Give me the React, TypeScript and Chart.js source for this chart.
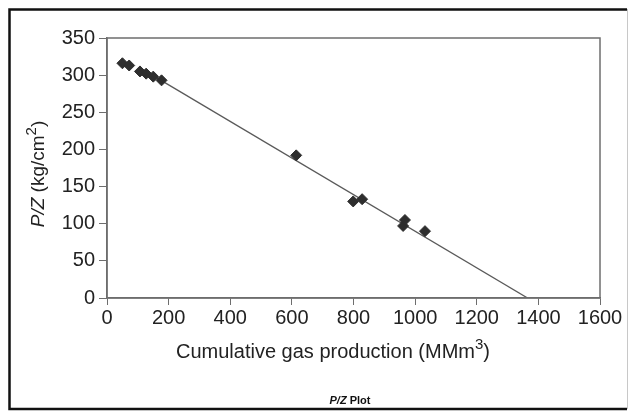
import React, { useEffect, useRef } from "react";
import { Chart, registerables } from "chart.js";

Chart.register(...registerables);

const cumulativeProduction = [50, 72, 107, 127, 150, 177, 614, 799, 828, 961, 967, 1032];
const pzValues = [316, 313, 305, 302, 298, 293, 192, 130, 133, 97, 105, 90];
const trendX = [151, 1365];
const trendY = [299, 0];
const xTicks = [0, 200, 400, 600, 800, 1000, 1200, 1400, 1600];
const yTicks = [0, 50, 100, 150, 200, 250, 300, 350];

const FONT = "'Liberation Sans', Arial, Helvetica, sans-serif";

const decorPlugin = {
  id: "decor",
  beforeDraw(chart: any) {
    const ctx = chart.ctx;
    const { width, height } = chart;
    ctx.save();
    ctx.fillStyle = "#ffffff";
    ctx.fillRect(0, 0, width, height);
    ctx.restore();
  },
  afterDraw(chart: any) {
    const ctx = chart.ctx;
    const ca = chart.chartArea;
    ctx.save();
    // plot frame
    ctx.strokeStyle = "#6e6e6e";
    ctx.lineWidth = 1.5;
    ctx.strokeRect(ca.left, ca.top, ca.right - ca.left, ca.bottom - ca.top);

    // outer frame
    ctx.strokeStyle = "#111";
    ctx.lineWidth = 2.5;
    ctx.beginPath();
    ctx.moveTo(627, 9.5);
    ctx.lineTo(9.5, 9.5);
    ctx.lineTo(9.5, 409);
    ctx.lineTo(627, 409);
    ctx.stroke();
    ctx.strokeStyle = "#c8c8c8";
    ctx.lineWidth = 1;
    ctx.beginPath();
    ctx.moveTo(627.5, 9);
    ctx.lineTo(627.5, 409);
    ctx.stroke();

    ctx.fillStyle = "#222";
    ctx.textBaseline = "alphabetic";

    // x title
    const main = "Cumulative gas production (MMm";
    ctx.font = `20px ${FONT}`;
    const w1 = ctx.measureText(main).width;
    ctx.font = `15px ${FONT}`;
    const w2 = ctx.measureText("3").width;
    ctx.font = `20px ${FONT}`;
    const w3 = ctx.measureText(")").width;
    const total = w1 + w2 + w3;
    const x0 = 333 - total / 2;
    const yb = 358;
    ctx.textAlign = "left";
    ctx.fillText(main, x0, yb);
    ctx.font = `15px ${FONT}`;
    ctx.fillText("3", x0 + w1, yb - 9);
    ctx.font = `20px ${FONT}`;
    ctx.fillText(")", x0 + w1 + w2, yb);

    // y title rotated
    ctx.save();
    ctx.translate(44, 174);
    ctx.rotate(-Math.PI / 2);
    const fs = 19;
    const pz = "P/Z";
    ctx.font = `italic ${fs}px ${FONT}`;
    const a = ctx.measureText(pz).width;
    ctx.font = `${fs}px ${FONT}`;
    const b = ctx.measureText(" (kg/cm").width;
    ctx.font = `15px ${FONT}`;
    const c = ctx.measureText("2").width;
    ctx.font = `${fs}px ${FONT}`;
    const d = ctx.measureText(")").width;
    const sx = -(a + b + c + d) / 2;
    ctx.font = `italic ${fs}px ${FONT}`;
    ctx.fillText(pz, sx, 0);
    ctx.font = `${fs}px ${FONT}`;
    ctx.fillText(" (kg/cm", sx + a, 0);
    ctx.font = `15px ${FONT}`;
    ctx.fillText("2", sx + a + b, -8);
    ctx.font = `${fs}px ${FONT}`;
    ctx.fillText(")", sx + a + b + c, 0);
    ctx.restore();

    // caption
    ctx.fillStyle = "#111";
    ctx.font = `bold italic 11px ${FONT}`;
    const p1 = ctx.measureText("P/Z").width;
    ctx.font = `bold 11px ${FONT}`;
    const p2 = ctx.measureText(" Plot").width;
    const cx = 350 - (p1 + p2) / 2;
    ctx.font = `bold italic 11px ${FONT}`;
    ctx.fillText("P/Z", cx, 404);
    ctx.font = `bold 11px ${FONT}`;
    ctx.fillText(" Plot", cx + p1, 404);
    ctx.restore();
  },
};

export default function App() {
  const ref = useRef<HTMLCanvasElement>(null);
  useEffect(() => {
    document.body.style.margin = "0";
    const points = cumulativeProduction.map((x, i) => ({ x, y: pzValues[i] }));
    const trend = trendX.map((x, i) => ({ x, y: trendY[i] }));
    const chart = new Chart(ref.current as HTMLCanvasElement, {
      type: "scatter",
      data: {
        datasets: [
          {
            type: "line",
            data: trend,
            borderColor: "#5a5a5a",
            borderWidth: 1.3,
            pointRadius: 0,
            showLine: true,
            order: 2,
          } as any,
          {
            data: points,
            pointStyle: "rectRot",
            pointRadius: 5.5,
            backgroundColor: "#2e2e2e",
            borderColor: "#2e2e2e",
            borderWidth: 1,
            order: 1,
          },
        ],
      },
      options: {
        animation: false,
        responsive: false,
        events: [],
        layout: { padding: { left: 0, right: 31, top: 38, bottom: 0 } },
        plugins: { legend: { display: false }, tooltip: { enabled: false } },
        scales: {
          x: {
            type: "linear",
            min: 0,
            max: 1600,
            afterBuildTicks: (s: any) => {
              s.ticks = xTicks.map((v) => ({ value: v }));
            },
            afterFit: (s: any) => {
              s.height = 118;
            },
            border: { display: true, color: "#6e6e6e", width: 1.5 },
            grid: { drawOnChartArea: false, drawTicks: true, tickLength: 7, color: "#6e6e6e" },
            ticks: {
              color: "#222",
              font: { family: FONT, size: 20 },
              padding: 1,
              maxRotation: 0,
              autoSkip: false,
              callback: (v: any) => String(v),
            },
          },
          y: {
            type: "linear",
            min: 0,
            max: 350,
            afterBuildTicks: (s: any) => {
              s.ticks = yTicks.map((v) => ({ value: v }));
            },
            afterFit: (s: any) => {
              s.width = 107;
            },
            border: { display: true, color: "#6e6e6e", width: 1.5 },
            grid: { drawOnChartArea: false, drawTicks: true, tickLength: 8, color: "#6e6e6e" },
            ticks: {
              color: "#222",
              font: { family: FONT, size: 20 },
              padding: 4,
              autoSkip: false,
              callback: (v: any) => String(v),
            },
          },
        },
      },
      plugins: [decorPlugin],
    });
    return () => chart.destroy();
  }, []);
  return (
    <div style={{ width: 631, height: 416 }}>
      <canvas ref={ref} width={631} height={416} style={{ display: "block" }} />
    </div>
  );
}
